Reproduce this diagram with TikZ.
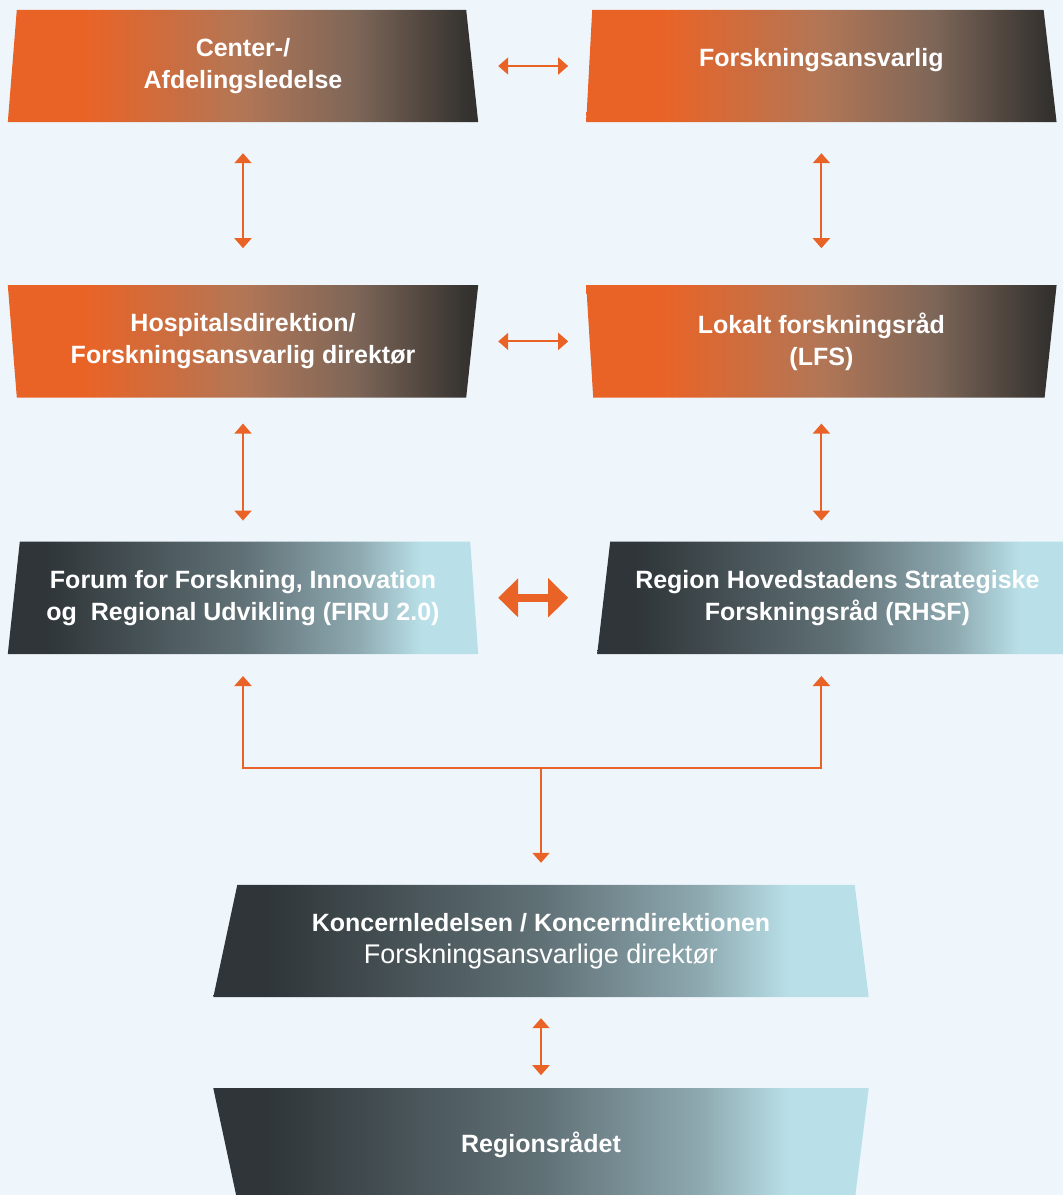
\documentclass[tikz,border=0pt]{standalone}
\usepackage{fontspec}
\setmainfont{Liberation Sans}
\usetikzlibrary{arrows.meta,backgrounds,calc,positioning}

\definecolor{pagebg}{HTML}{EEF6FC}
\definecolor{rhorange}{HTML}{EA6326}
\definecolor{rhtan}{HTML}{B27656}
\definecolor{rhbrown}{HTML}{7D6658}
\definecolor{rhdark}{HTML}{34322F}
\definecolor{rhslate}{HTML}{2F3538}
\definecolor{rhgrey}{HTML}{607176}
\definecolor{rhsteel}{HTML}{8DA8AF}
\definecolor{rhice}{HTML}{B9E0E8}

\pgfdeclarehorizontalshading{warmfade}{100bp}{color(0bp)=(rhorange); color(33bp)=(rhorange); color(50bp)=(rhtan); color(62bp)=(rhbrown); color(74bp)=(rhdark); color(100bp)=(rhdark)}
\pgfdeclarehorizontalshading{coldfade}{100bp}{color(0bp)=(rhslate); color(29bp)=(rhslate); color(50bp)=(rhgrey); color(62bp)=(rhsteel); color(69bp)=(rhice); color(100bp)=(rhice)}

\begin{document}
\begin{tikzpicture}[
x=1pt,y=-1pt,
box/.style={
  minimum width=470pt,
  minimum height=112pt,
  inner sep=0pt,
  text=white,
  align=center,
  font=\bfseries\fontsize{25}{32}\selectfont
},
warm/.style={shading=warmfade},
cold/.style={shading=coldfade},
link/.style={
  draw=rhorange,
  line width=2pt,
  {Triangle[width=17pt,length=10pt]}-{Triangle[width=17pt,length=10pt]}
},
uplink/.style={link,-{Triangle[width=17pt,length=10pt]}},
biglink/.style={
  draw=rhorange,
  line width=8pt,
  {Triangle[width=38pt,length=20pt]}-{Triangle[width=38pt,length=20pt]}
}
]
\useasboundingbox (0,0) rectangle (1063,1195);

% orange rows
\node[box] (b1) at (243,66) 
  {Center-/\\Afdelingsledelse};
\node[box,right=108pt of b1] (b2) 
  {\raisebox{0pt}[0pt][0pt]{Forskningsansvarlig}};
\node[box,below=163pt of b1] (b3) 
  {Hospitalsdirektion/\\Forskningsansvarlig direktør};
\node[box,below=163pt of b2] (b4) 
  {Lokalt forskningsråd\\(LFS)};

% dark rows
\node[box,below=144pt of b3] (b5) 
  {Forum for Forskning, Innovation\\og~ Regional Udvikling (FIRU 2.0)};
\node[box,minimum width=480pt,right=119pt of b5] (b6) 
  {Region Hovedstadens Strategiske\\Forskningsråd (RHSF)};
\node[box,minimum width=655pt] at (541,941) (b7) 
  {Koncernledelsen / Koncerndirektionen\\\textmd{\fontsize{27}{32}\selectfont Forskningsansvarlige direktør}};
\node[box,minimum width=655pt,below=91pt of b7] (b8) 
  {Regionsrådet};

\begin{scope}[on background layer]
\fill[pagebg] (0,0) rectangle (1063,1195);
\shade[warm] ([xshift=9pt]b1.north west) -- ([xshift=-12pt]b1.north east) -- (b1.south east) -- (b1.south west) -- cycle;
\shade[warm] ([xshift=6pt]b2.north west) -- ([xshift=-13pt]b2.north east) -- (b2.south east) -- (b2.south west) -- cycle;
\shade[warm] (b3.north west) -- (b3.north east) -- ([xshift=-12pt]b3.south east) -- ([xshift=9pt]b3.south west) -- cycle;
\shade[warm] (b4.north west) -- (b4.north east) -- ([xshift=-12pt]b4.south east) -- ([xshift=7pt]b4.south west) -- cycle;
\shade[cold] ([xshift=12pt]b5.north west) -- ([xshift=-8pt]b5.north east) -- (b5.south east) -- (b5.south west) -- cycle;
\shade[cold] ([xshift=13pt]b6.north west) -- ([xshift=-12pt]b6.north east) -- (b6.south east) -- (b6.south west) -- cycle;
\shade[cold] ([xshift=24pt]b7.north west) -- ([xshift=-14pt]b7.north east) -- (b7.south east) -- (b7.south west) -- cycle;
\shade[cold] (b8.north west) -- (b8.north east) -- ([xshift=-14pt]b8.south east) -- ([xshift=24pt]b8.south west) -- cycle;
\end{scope}

\draw[link,shorten <=20pt,shorten >=18pt] (b1) -- (b2);
\draw[link,shorten <=20pt,shorten >=18pt] (b3) -- (b4);
\draw[biglink,shorten <=20pt,shorten >=29pt] (b5) -- (b6);

\draw[link,shorten <=31pt,shorten >=37pt] (b1) -- (b3);
\draw[link,shorten <=31pt,shorten >=37pt] (b2) -- (b4);
\draw[link,shorten <=26pt,shorten >=21pt] (b3) -- (b5);
\draw[link,shorten <=26pt,shorten >=21pt] (b4.south) -- (b4.south |- b6.north);

\coordinate (hub) at (541,768);
\draw[uplink] (hub) -| ($(b5.south)+(0,22)$);
\draw[uplink] (hub) -| ($(b4.south |- b6.south)+(0,22)$);
\draw[uplink] (hub) -- ($(b7.north)+(0,-22)$);

\draw[link,shorten <=21pt,shorten >=13pt] (b7) -- (b8);
\end{tikzpicture}
\end{document}
